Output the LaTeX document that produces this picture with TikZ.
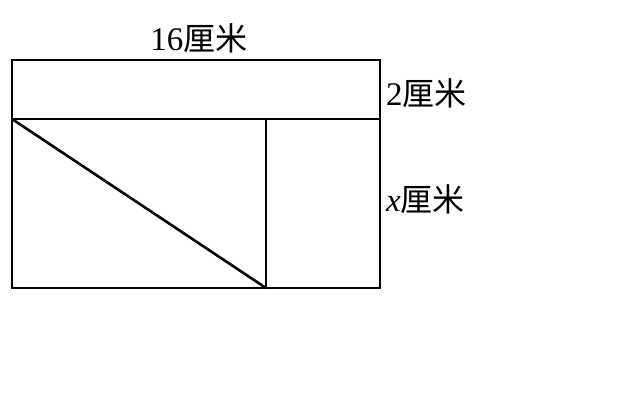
\documentclass[tikz,border=0pt]{standalone}
\usepackage{fontspec}
\setmainfont{Liberation Serif}
\newfontfamily\cjk{Noto Sans CJK SC}[Scale=0.97]
\begin{document}
\begin{tikzpicture}[x=1pt,y=-1pt,
  edge/.style={line width=2.6pt,black},
  lbl/.style={inner sep=0pt,font=\fontsize{33}{34}\selectfont}]
\useasboundingbox (0,0) rectangle (630,410);
\fill[white] (0,0) rectangle (630,410);
\coordinate (A) at (12,60);
\coordinate (B) at (380,60);
\coordinate (C) at (380,288);
\coordinate (D) at (12,288);
\coordinate (E) at (12,119);
\coordinate (F) at (380,119);
\coordinate (G) at (266,119);
\coordinate (H) at (266,288);
\draw[edge,line join=miter] (A) -- (B) -- (C) -- (D) -- cycle;
\draw[edge] (E) -- (F);
\draw[edge] (G) -- (H);
\draw[edge] (E) -- (H);
\node[lbl] (top) at (199,38) {16{\cjk 厘米}};
\node[lbl,anchor=west] (two) at (386,93) {2{\cjk 厘米}};
\node[lbl,anchor=west] (xx) at (386,199) {\textit{x}{\cjk 厘米}};
\end{tikzpicture}
\end{document}
